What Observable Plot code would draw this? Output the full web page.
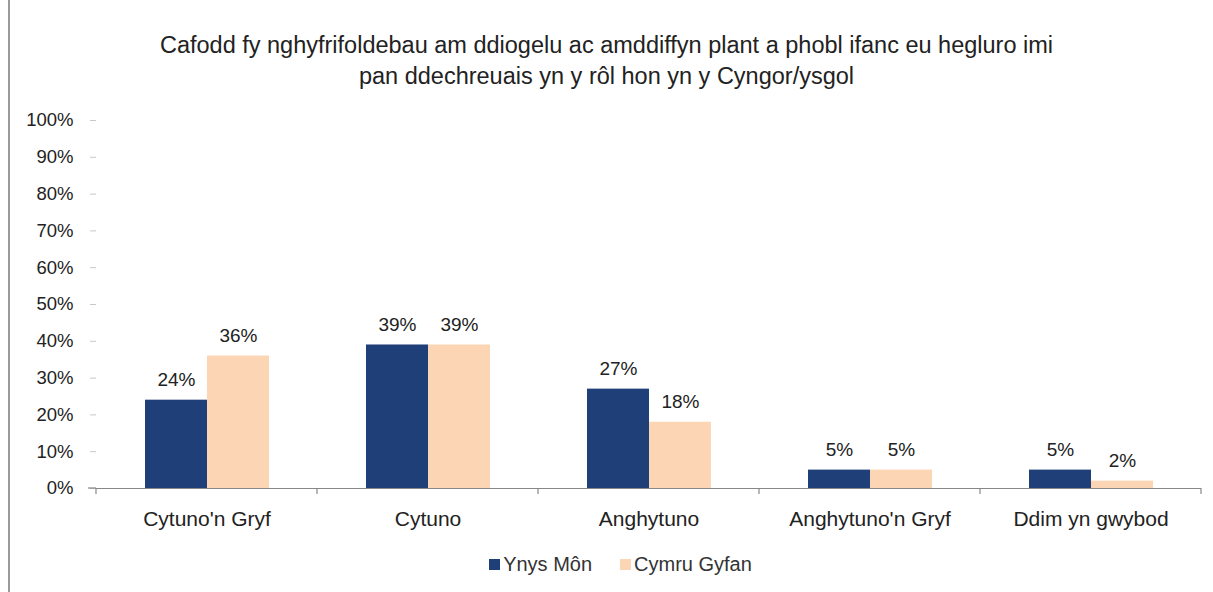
<!DOCTYPE html>
<html><head><meta charset="utf-8">
<script src="https://cdn.jsdelivr.net/npm/d3@7"></script>
<script src="https://cdn.jsdelivr.net/npm/@observablehq/plot@0.6"></script>
<style>
body{margin:0;background:#fff;font-family:"Liberation Sans",sans-serif;}
#wrap{position:relative;width:1213px;height:592px;overflow:hidden;}
#border{position:absolute;left:8px;top:0;width:2px;height:592px;background:#9a9a9a;}
#title{position:absolute;top:30px;left:0;width:1213px;text-align:center;font-size:23.5px;line-height:31px;color:#222;}
#chart{position:absolute;top:100px;left:0;}
#legend{position:absolute;top:553px;left:0;width:1213px;display:flex;justify-content:center;gap:28px;font-size:20px;color:#333;padding-left:28px;box-sizing:border-box;}
#legend span.item{display:flex;align-items:center;gap:3px;}
#legend span.sw{display:inline-block;width:11px;height:11px;}
</style></head>
<body>
<div id="wrap">
  <div id="border"></div>
  <div id="title">Cafodd fy nghyfrifoldebau am ddiogelu ac amddiffyn plant a phobl ifanc eu hegluro imi<br>pan ddechreuais yn y rôl hon yn y Cyngor/ysgol</div>
  <div id="chart"></div>
  <div id="legend"></div>
</div>
<script>
const categories = ["Cytuno'n Gryf", "Cytuno", "Anghytuno", "Anghytuno'n Gryf", "Ddim yn gwybod"];
const series = ["Ynys Môn", "Cymru Gyfan"];
const ynysMon = [24, 39, 27, 5, 5];
const cymruGyfan = [36, 39, 18, 5, 2];
const yTicks = [0, 10, 20, 30, 40, 50, 60, 70, 80, 90, 100];
const colors = ["#1F3F78", "#FCD5B4"];

const data = categories.flatMap((c, i) => [
  {category: c, series: series[0], value: ynysMon[i]},
  {category: c, series: series[1], value: cymruGyfan[i]}
]);

const plot = Plot.plot({
  width: 1213, height: 440,
  marginTop: 20, marginBottom: 52, marginLeft: 96, marginRight: 12,
  style: {fontFamily: "Liberation Sans, sans-serif", background: "transparent", overflow: "visible"},
  fx: {domain: categories, paddingInner: 0, paddingOuter: 0, label: null},
  x: {domain: series, paddingInner: 0, paddingOuter: 0.768, axis: null},
  y: {domain: [0, 100], label: null},
  color: {domain: series, range: colors},
  marks: [
    Plot.axisY({ticks: yTicks, tickFormat: d => d + "%", tickSize: 6, tickPadding: 17, stroke: "#c8c8c8", fill: "#222", fontSize: 18.5, label: null}),
    Plot.barY(data, {fx: "category", x: "series", y: "value", fill: "series"}),
    Plot.text(data, {fx: "category", x: "series", y: "value", text: d => d.value + "%", dy: -20, fontSize: 19, fill: "#222"}),
    Plot.ruleY([0], {stroke: "#888", strokeWidth: 1.2}),
    Plot.axisFx({anchor: "bottom", tickSize: 0, tickPadding: 23, fontSize: 21, fill: "#222", label: null})
  ]
});
document.getElementById("chart").appendChild(plot);

// category boundary ticks from the fx scale
const fx = plot.scale("fx");
const y0 = plot.scale("y").apply(0);
const edges = categories.map(c => fx.apply(c)).concat([fx.apply(categories[categories.length - 1]) + fx.bandwidth]);
const svg = d3.select(plot);
svg.append("g").selectAll("line").data(edges).join("line")
  .attr("x1", d => d).attr("x2", d => d)
  .attr("y1", y0).attr("y2", y0 + 6)
  .attr("stroke", "#888").attr("stroke-width", 1.2);
svg.append("line").attr("x1", edges[0] - 8).attr("x2", edges[0])
  .attr("y1", y0).attr("y2", y0).attr("stroke", "#888").attr("stroke-width", 1.2);

const legend = d3.select("#legend");
series.forEach((s, i) => {
  const item = legend.append("span").attr("class", "item");
  item.append("span").attr("class", "sw").style("background", colors[i]);
  item.append("span").text(s);
});
</script>
</body></html>
